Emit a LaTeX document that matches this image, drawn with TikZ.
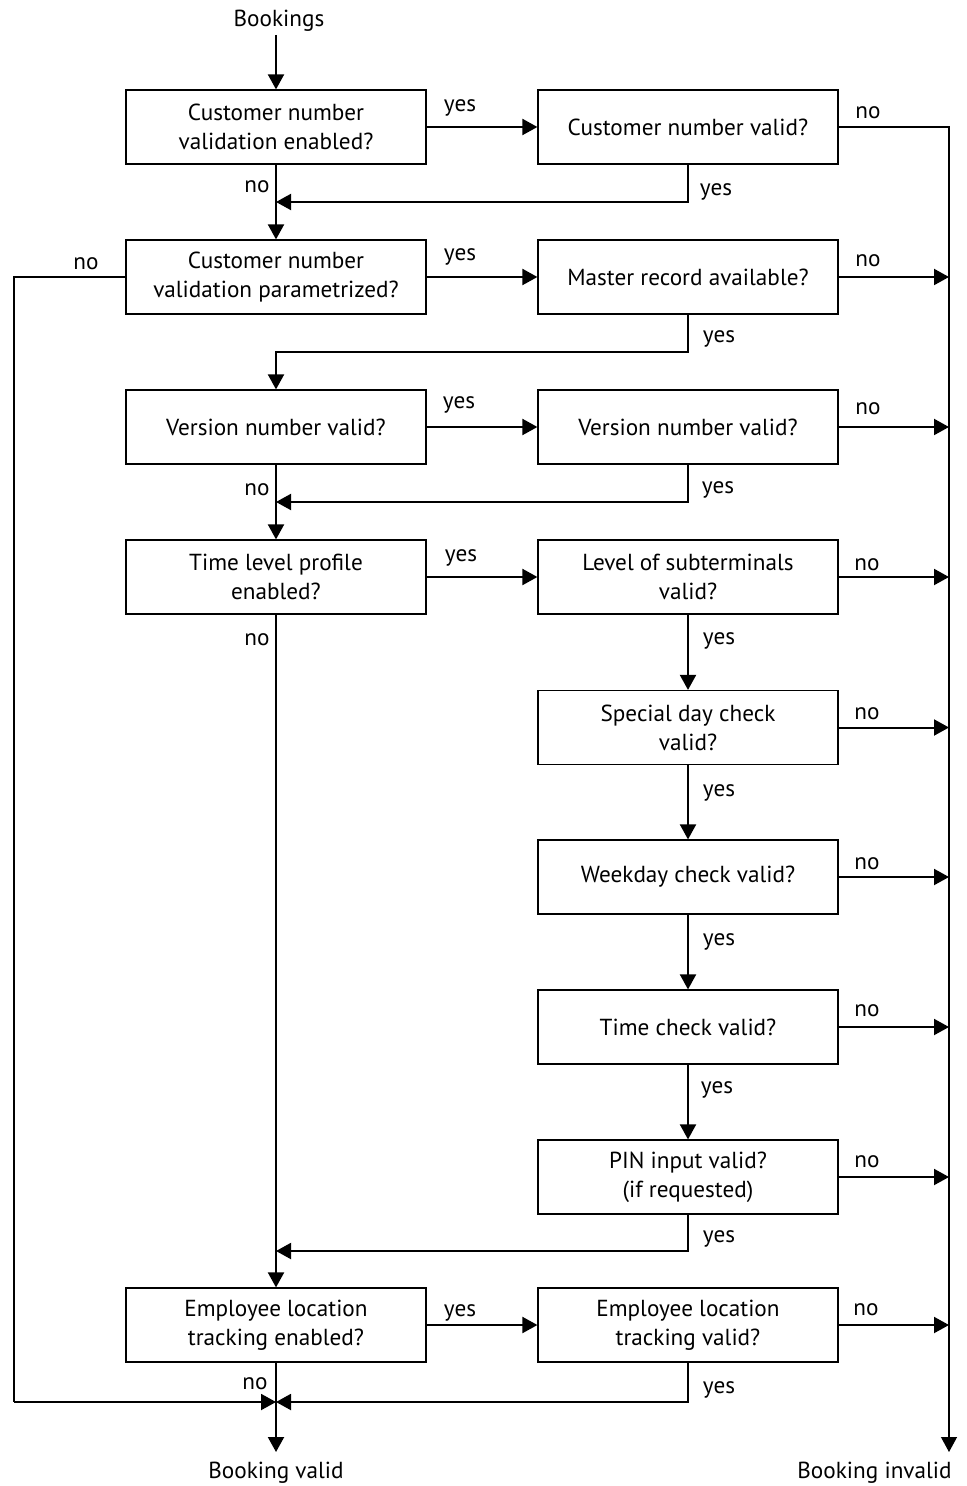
\documentclass[tikz,border=0pt]{standalone}
\usepackage{fontspec}
\setmainfont{PT Sans}
\usetikzlibrary{arrows.meta}
\begin{document}
\begin{tikzpicture}[x=0.5pt,y=-0.5pt,
  box/.style={draw, line width=0.6pt, minimum width=150pt, minimum height=37pt,
    inner sep=0pt, align=center, font=\fontsize{11.6}{14.5}\selectfont},
  lbl/.style={inner sep=0pt, yshift=-1.5pt, font=\fontsize{11.6}{13}\selectfont},
  tip/.style={-{Triangle[length=7.5pt,width=8pt]}},
  flow/.style={line width=1pt, tip},
  rail/.style={line width=0.6pt}
]
\useasboundingbox (0,0) rectangle (967,1486);

% decision boxes, left column
\node[box] (c1) at (276,127) {Customer number\\validation enabled?};
\node[box] (c2) at (276,277) {Customer number\\validation parametrized?};
\node[box] (c3) at (276,427) {Version number valid?};
\node[box] (c4) at (276,577) {Time level profile\\enabled?};
\node[box] (c9) at (276,1325) {Employee location\\tracking enabled?};

% decision boxes, right column
\node[box] (v1) at (688,127) {Customer number valid?};
\node[box] (v2) at (688,277) {Master record available?};
\node[box] (v3) at (688,427) {Version number valid?};
\node[box] (v4) at (688,577) {Level of subterminals\\valid?};
\node[box] (v5) at (688,727.5) {Special day check\\valid?};
\node[box] (v6) at (688,877) {Weekday check valid?};
\node[box] (v7) at (688,1027) {Time check valid?};
\node[box] (v8) at (688,1177) {PIN input valid?\\(if requested)};
\node[box] (v9) at (688,1325) {Employee location\\tracking valid?};

% start and end
\node[lbl] (start) at (279,18) {Bookings};
\node[lbl] (ok) at (276,1470) {Booking valid};
\node[lbl, anchor=east] (bad) at (952,1470) {Booking invalid};

% junction points
\coordinate (in) at (276,35);
\coordinate (j1) at (276,202);
\coordinate (j2) at (276,352);
\coordinate (j3) at (276,502);
\coordinate (j8) at (276,1251);
\coordinate (j9) at (276,1402);
\coordinate (rtop) at (949,127);
\coordinate (rend) at (949,1452);
\coordinate (ltop) at (14,277);
\coordinate (lend) at (14,1402);
\coordinate (okin) at (276,1452);

% main flow
\draw[flow] (in) -- (c1);
\draw[flow] (c1) -- (c2);
\draw[flow] (v2.south) |- (j2) -- (c3.north);
\draw[flow] (c3) -- (c4);
\draw[flow] (c4) -- (c9);
\draw[flow] (c9) -- (okin);

% yes branches to the right
\foreach \a/\b in {c1/v1, c2/v2, c3/v3, c4/v4, c9/v9, v4/v5, v5/v6, v6/v7, v7/v8}
  \draw[flow] (\a) -- (\b);

% returns into the main flow
\draw[flow] (v1.south) |- (j1);
\draw[flow] (v3.south) |- (j3);
\draw[flow] (v8.south) |- (j8);
\draw[flow] (v9.south) |- (j9);

% invalid rail
\draw[rail, tip] (v1) -- (rtop) -- (rend);
\foreach \b in {v2, v3, v4, v5, v6, v7, v8, v9}
  \draw[flow] (\b) -- (\b -| rtop);

% bypass rail on the left
\draw[rail] (c2) -- (ltop) -- (lend);
\draw[flow] (lend) -- (j9);

% branch labels
\foreach \x/\y [count=\i] in {460/105, 716/189, 460/254, 719/336, 459/402, 718/487,
    461/555, 719/638, 719/790, 719/939, 717/1087, 719/1236, 460/1310, 719/1387}
  \node[lbl] (yes\i) at (\x,\y) {yes};
\foreach \x/\y [count=\i] in {257/184, 868/110, 86/261, 868/258, 868/406, 257/487,
    867/562, 257/637, 867/711, 867/861, 867/1008, 867/1159, 866/1307, 255/1381}
  \node[lbl] (no\i) at (\x,\y) {no};
\end{tikzpicture}
\end{document}
